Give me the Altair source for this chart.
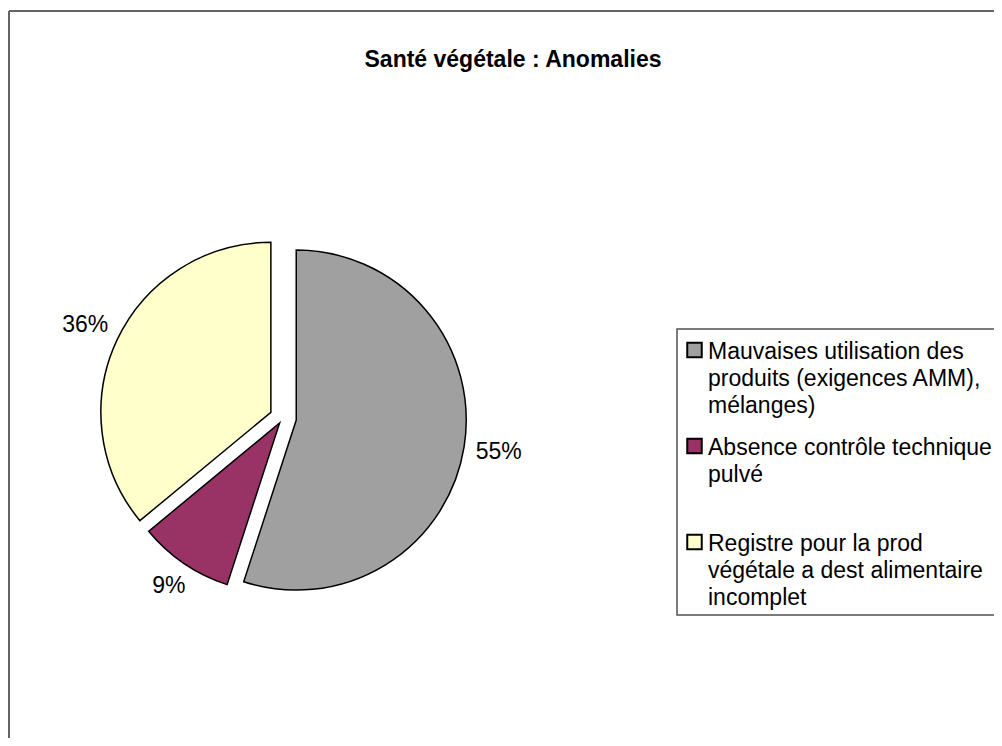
import altair as alt
import pandas as pd

# ---------------- data ----------------
title_text = "Santé végétale : Anomalies"
categories = [
    "Mauvaises utilisation des produits (exigences AMM), mélanges",
    "Absence contrôle technique pulvé",
    "Registre pour la prod végétale a dest alimentaire incomplet",
]
values = [55, 9, 36]
pct_labels = ["55%", "9%", "36%"]
colors = ["#a0a0a0", "#993366", "#ffffcc"]
legend_lines = [
    ["Mauvaises utilisation des", "produits (exigences AMM),", "mélanges)"],
    ["Absence contrôle technique", "pulvé"],
    ["Registre pour la prod", "végétale a dest alimentaire", "incomplet"],
]

# ---------------- layout (plot-area pixels) ----------------
W, H = 986, 730
CX, CY = 275, 410          # pie centre
R = 170                    # pie radius
EXPLODE = [13.4, 6, 13.4]  # per-slice explosion distance (style)
LABEL_GAP = 181
FONT = "Liberation Sans"
FS = 23
LEG_TX = 700               # legend text x
LEG_SX = 686.5             # legend symbol x
LEG_Y0 = 351               # first baseline
LEG_SLOT = 96
LEG_LH = 27

pie_df = pd.DataFrame({
    "idx": list(range(len(values))),
    "category": categories,
    "value": values,
    "label": pct_labels,
    "explode": EXPLODE,
})

pie_base = (
    alt.Chart(pie_df)
    .transform_joinaggregate(total="sum(value)")
    .transform_window(cum="sum(value)", sort=[alt.SortField("idx")])
    .transform_calculate(start="2*PI*(datum.cum - datum.value)/datum.total")
    .transform_calculate(end="2*PI*datum.cum/datum.total")
    .transform_calculate(mid="(datum.start + datum.end)/2")
    .transform_calculate(cx=f"{CX} + datum.explode*sin(datum.mid)")
    .transform_calculate(cy=f"{CY} - datum.explode*cos(datum.mid)")
)

arcs = pie_base.mark_arc(outerRadius=R, stroke="black", strokeWidth=1.5).encode(
    x=alt.X("cx:Q", scale=None, axis=None),
    y=alt.Y("cy:Q", scale=None, axis=None),
    theta=alt.Theta("start:Q", scale=None),
    theta2="end:Q",
    color=alt.Color("category:N", scale=alt.Scale(domain=categories, range=colors), legend=None),
)

labels = (
    pie_base
    .transform_calculate(halfw=f"(length(datum.label)-1)*{FS*0.278} + {FS*0.444}")
    .transform_calculate(dist=f"{LABEL_GAP} + datum.halfw*abs(sin(datum.mid)) + 8*abs(cos(datum.mid))")
    .transform_calculate(lx="datum.cx + datum.dist*sin(datum.mid)")
    .transform_calculate(ly="datum.cy - datum.dist*cos(datum.mid)")
    .mark_text(font=FONT, fontSize=FS, align="center", baseline="middle", color="black")
    .encode(
        x=alt.X("lx:Q", scale=None, axis=None),
        y=alt.Y("ly:Q", scale=None, axis=None),
        text="label:N",
    )
)

# legend
rows = []
for i, lines in enumerate(legend_lines):
    for j, t in enumerate(lines):
        rows.append({"entry": i, "line": j, "text": t, "category": categories[i]})
leg_df = pd.DataFrame(rows)

leg_text = (
    alt.Chart(leg_df)
    .transform_calculate(ty=f"{LEG_Y0} + datum.entry*{LEG_SLOT} + datum.line*{LEG_LH}")
    .mark_text(font=FONT, fontSize=FS, align="left", baseline="alphabetic", color="black")
    .encode(
        x=alt.value(LEG_TX),
        y=alt.Y("ty:Q", scale=None, axis=None),
        text="text:N",
    )
)

leg_sym = (
    alt.Chart(leg_df)
    .transform_filter("datum.line == 0")
    .transform_calculate(sy=f"{LEG_Y0} - 9 + datum.entry*{LEG_SLOT}")
    .mark_square(size=210, stroke="black", strokeWidth=2, opacity=1)
    .encode(
        x=alt.value(LEG_SX),
        y=alt.Y("sy:Q", scale=None, axis=None),
        color=alt.Color("category:N", scale=alt.Scale(domain=categories, range=colors), legend=None),
    )
)

one = pd.DataFrame({"k": [0]})
leg_box = alt.Chart(one).mark_rect(fill="white", stroke="#505050", strokeWidth=1.5).encode(
    x=alt.value(669), x2=alt.value(W + 20), y=alt.value(321), y2=alt.value(607)
)

border_top = alt.Chart(one).mark_rule(color="#646464", strokeWidth=2).encode(
    x=alt.value(1), x2=alt.value(W + 10), y=alt.value(3), y2=alt.value(3)
)
border_left = alt.Chart(one).mark_rule(color="#646464", strokeWidth=2).encode(
    x=alt.value(1), x2=alt.value(1), y=alt.value(3), y2=alt.value(H + 10)
)

title = alt.Chart(pd.DataFrame({"t": [title_text]})).mark_text(
    font=FONT, fontSize=FS, fontWeight="bold", align="center", baseline="middle", color="black"
).encode(x=alt.value(505), y=alt.value(52), text="t:N")

chart = (
    alt.layer(border_top, border_left, leg_box, arcs, labels, leg_sym, leg_text, title)
    .properties(width=W, height=H, padding=0, autosize="none", background="white")
    .configure_view(stroke=None)
)

chart.save("out.html", embed_options={"renderer": "svg", "actions": False})
